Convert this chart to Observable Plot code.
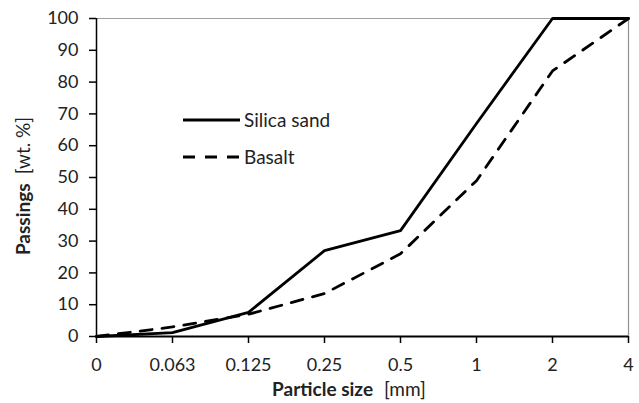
<!DOCTYPE html>
<html>
<head>
<meta charset="utf-8">
<script src="https://cdn.jsdelivr.net/npm/d3@7"></script>
<script src="https://cdn.jsdelivr.net/npm/@observablehq/plot@0.6"></script>
<style>
  html, body { margin: 0; padding: 0; background: #fff; }
  #chart { position: relative; width: 639px; height: 403px; }
  svg { font-family: Lato, "Open Sans", sans-serif; }
</style>
</head>
<body>
<div id="chart"></div>
<script>
const sizes = ["0", "0.063", "0.125", "0.25", "0.5", "1", "2", "4"];
const silicaSand = [0, 1.2, 7.6, 27, 33.3, 67, 100, 100];
const basalt = [0, 3, 7, 13.5, 26, 49, 83.5, 100];
const yTicks = [0, 10, 20, 30, 40, 50, 60, 70, 80, 90, 100];
const seriesNames = ["Silica sand", "Basalt"];

const rows = [];
sizes.forEach((s, i) => {
  rows.push({size: s, value: silicaSand[i], series: seriesNames[0]});
  rows.push({size: s, value: basalt[i], series: seriesNames[1]});
});

const FS = 18;
const TFS = 19;
const DASH = "12,10";
const W = 639, H = 403;
const plot = Plot.plot({
  width: W,
  height: H,
  marginLeft: 96,
  marginRight: 11,
  marginTop: 18,
  marginBottom: 67,
  style: {fontSize: FS + "px", fontFamily: "Lato, 'Open Sans', sans-serif", color: "#222", background: "#fff", overflow: "visible"},
  x: {type: "point", domain: sizes, padding: 0},
  y: {domain: [0, 100]},
  marks: [
    Plot.ruleY([100], {stroke: "#a0a0a0", strokeWidth: 1.2}),
    Plot.ruleX([sizes[sizes.length - 1]], {stroke: "#909090", strokeWidth: 1.2}),
    Plot.line(rows.filter(d => d.series === seriesNames[1]), {x: "size", y: "value", stroke: "#000", strokeWidth: 2.8, strokeDasharray: DASH}),
    Plot.line(rows.filter(d => d.series === seriesNames[0]), {x: "size", y: "value", stroke: "#000", strokeWidth: 2.8}),
    Plot.ruleX([sizes[0]], {stroke: "#000", strokeWidth: 1.5}),
    Plot.ruleY([0], {stroke: "#000", strokeWidth: 2}),
    Plot.axisY({ticks: yTicks, tickSize: 7, tickPadding: 11, label: null, stroke: "#000", strokeWidth: 1.5, fill: "#222"}),
    Plot.axisX({tickSize: 7, tickPadding: 15, label: null, stroke: "#000", strokeWidth: 1.5, fill: "#222"})
  ]
});
document.getElementById("chart").appendChild(plot);

const svg = d3.select(plot);
// Y axis title
const yt = svg.append("text")
  .attr("transform", "translate(30,186) rotate(-90)")
  .attr("text-anchor", "middle")
  .attr("font-size", TFS)
  .attr("fill", "#222");
yt.append("tspan").attr("font-weight", "bold").text("Passings");
yt.append("tspan").attr("dx", 9).text("[wt. %]");

// X axis title
const xt = svg.append("text")
  .attr("x", 349).attr("y", 396)
  .attr("text-anchor", "middle")
  .attr("font-size", TFS)
  .attr("fill", "#222");
xt.append("tspan").attr("font-weight", "bold").text("Particle size");
xt.append("tspan").attr("dx", 11).text("[mm]");

// Legend
const leg = svg.append("g");
const legendItems = [
  {name: seriesNames[0], dash: null, y: 120},
  {name: seriesNames[1], dash: DASH, y: 157}
];
legendItems.forEach(it => {
  leg.append("line")
    .attr("x1", 183).attr("x2", 240).attr("y1", it.y).attr("y2", it.y)
    .attr("stroke", "#000").attr("stroke-width", 2.8)
    .attr("stroke-dasharray", it.dash);
  leg.append("text")
    .attr("x", 244).attr("y", it.y).attr("dy", "0.35em")
    .attr("text-anchor", "start")
    .attr("font-size", TFS).attr("fill", "#222")
    .text(it.name);
});
</script>
</body>
</html>
